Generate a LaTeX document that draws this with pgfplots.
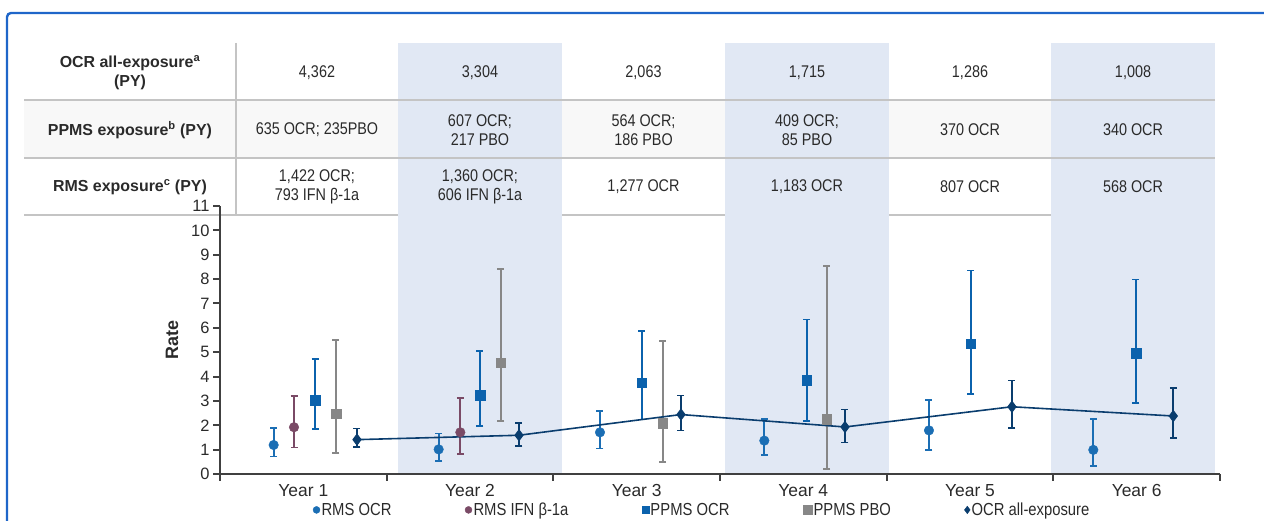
\documentclass[border=0pt]{standalone}
\usepackage{fontspec}
\setmainfont{Liberation Sans}
\newfontfamily\cond{Liberation Sans}[FakeStretch=0.85]
\usepackage{pgfplots}
\usepackage{pgfplotstable}
\pgfplotsset{compat=1.18}
\definecolor{frameblue}{HTML}{1F66C9}
\definecolor{colshade}{HTML}{E1E8F4}
\definecolor{rowgray}{HTML}{F8F8F8}
\definecolor{linegray}{HTML}{C4C4C4}
\definecolor{axgray}{HTML}{404040}
\definecolor{txt}{HTML}{2A2A2A}
\definecolor{rmsocr}{HTML}{1B6EB4}
\definecolor{ifn}{HTML}{7A4A66}
\definecolor{ppmsocr}{HTML}{0B62AD}
\definecolor{pbo}{HTML}{878787}
\definecolor{allexp}{HTML}{0A3D6E}

\pgfplotsset{ebars/.style={error bars/.cd, y dir=both, y explicit,
    error bar style={line width=1.8bp, solid},
    error mark options={rotate=90, line width=1.6bp, mark size=3.5bp}}}

\pgfplotstableread{
x y ep em
0.822 1.19 0.71 0.48
1.812 1.01 0.65 0.48
2.780 1.71 0.88 0.66
3.766 1.37 0.89 0.58
4.754 1.79 1.25 0.80
5.740 0.99 1.27 0.65
}\tRMS
\pgfplotstableread{
x y ep em
0.944 1.92 1.27 0.84
1.942 1.71 1.42 0.89
}\tIFN
\pgfplotstableread{
x y ep em
1.070 3.04 1.68 1.19
2.060 3.24 1.81 1.26
3.030 3.74 2.14 1.51
4.020 3.86 2.48 1.68
5.004 5.34 3.01 2.06
5.996 4.97 3.02 2.06
}\tPPMS
\pgfplotstableread{
x y ep em
1.196 2.48 3.03 1.62
2.184 4.57 3.85 2.39
3.156 2.09 3.38 1.60
4.140 2.26 6.27 2.05
}\tPBO
\pgfplotstableread{
x y ep em
1.322 1.41 0.45 0.30
2.294 1.59 0.50 0.44
3.266 2.44 0.78 0.65
4.250 1.93 0.72 0.64
5.252 2.76 1.07 0.87
6.220 2.38 1.14 0.90
}\tALL

\begin{document}
\begin{tikzpicture}[x=1bp,y=1bp]
\path[use as bounding box] (0,0) rectangle (1264,521);
% table background
\fill[rowgray] (24,421) rectangle (1215,363);
\draw[linegray, line width=1.5bp] (24,306) -- (1215,306);
\fill[colshade] (398,478) rectangle (562,47);
\fill[colshade] (725,478) rectangle (889,47);
\fill[colshade] (1051,478) rectangle (1215,47);
\draw[linegray, line width=1.5bp] (24,421) -- (1215,421) (24,363) -- (1215,363);
\draw[linegray, line width=1.2bp] (236,478) -- (236,306);
\draw[frameblue, line width=2.4bp, rounded corners=4bp] (7,-5) -- (7,508) -- (1270,508);
% table labels
\begin{scope}[every node/.style={text=txt, align=center, inner sep=0pt}]
\node[font=\bfseries\fontsize{16}{19}\selectfont] at (130,448) {OCR all-exposure\textsuperscript{a}\\(PY)};
\node[font=\bfseries\fontsize{16}{19}\selectfont] at (130,391) {PPMS exposure\textsuperscript{b} (PY)};
\node[font=\bfseries\fontsize{16}{19}\selectfont] at (130,334) {RMS exposure\textsuperscript{c} (PY)};
\begin{scope}[every node/.append style={font=\cond\fontsize{17}{19}\selectfont}]
\node at (317,448) {4,362};
\node at (480,448) {3,304};
\node at (643.5,448) {2,063};
\node at (807,448) {1,715};
\node at (970,448) {1,286};
\node at (1133,448) {1,008};
\node at (317,391) {635 OCR; 235PBO};
\node at (480,391) {607 OCR;\\217 PBO};
\node at (643.5,391) {564 OCR;\\186 PBO};
\node at (807,391) {409 OCR;\\85 PBO};
\node at (970,391) {370 OCR};
\node at (1133,391) {340 OCR};
\node at (317,334) {1,422 OCR;\\793 IFN β-1a};
\node at (480,334) {1,360 OCR;\\606 IFN β-1a};
\node at (643.5,334) {1,277 OCR};
\node at (807,334) {1,183 OCR};
\node at (970,334) {807 OCR};
\node at (1133,334) {568 OCR};
\end{scope}
\end{scope}
\begin{axis}[
  at={(220bp,47bp)}, anchor=south west, scale only axis,
  width=1000bp, height=268bp,
  xmin=0.5, xmax=6.5, ymin=0, ymax=11, clip=false,
  axis x line*=bottom, axis y line*=left,
  axis line style={draw=axgray, line width=2.6bp},
  xtick={0.5,1.5,...,6.5}, x tick label as interval,
  xticklabels={Year 1,Year 2,Year 3,Year 4,Year 5,Year 6},
  ytick={0,1,...,11},
  tick align=outside, major tick length=7bp,
  tick style={draw=axgray, line width=2bp},
  /pgf/number format/assume math mode=true,
  yticklabel style={font=\fontsize{16.5}{16.5}\selectfont, text=txt},
  xticklabel style={font=\fontsize{17.5}{17.5}\selectfont, text=txt},
  ylabel={Rate},
  ylabel style={font=\bfseries\fontsize{18}{18}\selectfont, text=txt, at={(axis description cs:-0.048,0.5)}, anchor=center},
  legend image code/.code={\draw[#1] plot coordinates {(0bp,0bp)};},
  legend columns=5,
  legend cell align=left,
  legend style={draw=none, fill=none, at={(axis description cs:0.482,-0.134)}, anchor=center,
    font=\cond\fontsize{17.5}{17.5}\selectfont, text=txt,
    nodes={inner sep=1.5bp},
    /tikz/every even column/.append style={column sep=72bp}}
]
\addplot[only marks, mark=*, mark size=4.8bp, color=rmsocr, forget plot, ebars]
  table[x=x, y=y, y error plus=ep, y error minus=em] {\tRMS};
\addplot[only marks, mark=*, mark size=4.8bp, color=ifn, forget plot, ebars]
  table[x=x, y=y, y error plus=ep, y error minus=em] {\tIFN};
\addplot[only marks, mark=square*, mark size=4.8bp, color=ppmsocr, forget plot, ebars]
  table[x=x, y=y, y error plus=ep, y error minus=em] {\tPPMS};
\addplot[only marks, mark=square*, mark size=4.8bp, color=pbo, forget plot, ebars]
  table[x=x, y=y, y error plus=ep, y error minus=em] {\tPBO};
\addplot[color=allexp, line width=1.6bp, mark=diamond*, mark size=5.4bp, mark options={solid, line width=1bp}, forget plot, ebars]
  table[x=x, y=y, y error plus=ep, y error minus=em] {\tALL};
\addlegendimage{mark=*, mark size=3.5bp, color=rmsocr}
\addlegendentry{RMS OCR}
\addlegendimage{mark=*, mark size=3.5bp, color=ifn}
\addlegendentry{RMS IFN β-1a}
\addlegendimage{mark=square*, mark size=3.5bp, color=ppmsocr}
\addlegendentry{PPMS OCR}
\addlegendimage{mark=square*, mark size=4.5bp, color=pbo}
\addlegendentry{PPMS PBO}
\addlegendimage{mark=diamond*, mark size=3.8bp, color=allexp}
\addlegendentry{OCR all-exposure}
\end{axis}
\end{tikzpicture}
\end{document}
